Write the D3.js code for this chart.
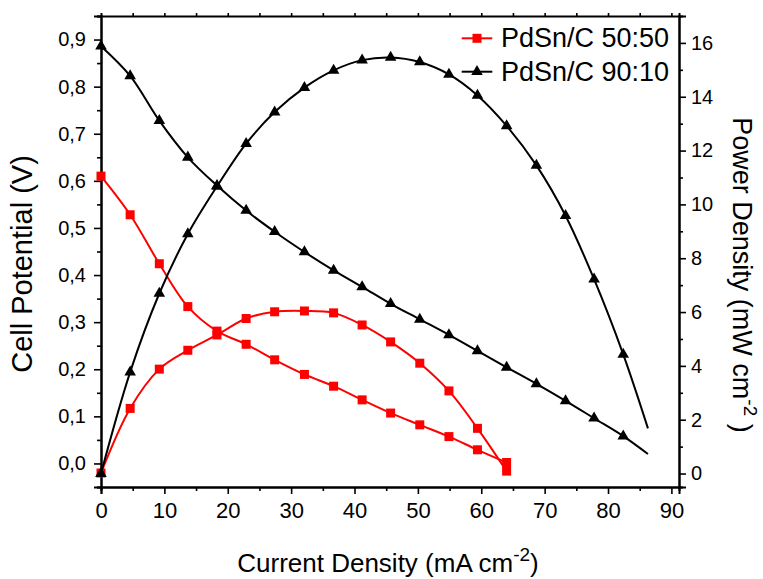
<!DOCTYPE html>
<meta charset="utf-8">
<script src="https://d3js.org/d3.v7.min.js"></script>
<style>
    body { margin: 0; background: #fff; }
    svg { font-family: "Liberation Sans", Arial, sans-serif; }
</style>
<div id="chart"></div>

<script>
    var margin = {top: 16, right: 84, bottom: 92, left: 101},
        width = 763 - margin.left - margin.right,
        height = 579 - margin.top - margin.bottom;

    // current density (mA cm-2)
    const currentRed = [0, 4.6, 9.2, 13.7, 18.3, 22.9, 27.4, 32.1, 36.7, 41.2, 45.7, 50.3, 54.9, 59.4, 64.0];
    const currentBlack = [0, 4.6, 9.2, 13.7, 18.3, 22.9, 27.4, 32.1, 36.7, 41.2, 45.7, 50.3, 54.9, 59.4, 64.0, 68.7, 73.3, 77.8, 82.4, 86.3];
    // PdSn/C 50:50
    const potential5050 = [0.610, 0.528, 0.424, 0.333, 0.281, 0.253, 0.220, 0.189, 0.164, 0.135, 0.107, 0.082, 0.057, 0.029, 0.002];
    const power5050 = [0.02, 2.42, 3.88, 4.58, 5.15, 5.76, 6.01, 6.04, 5.97, 5.52, 4.89, 4.10, 3.07, 1.68, 0.09];
    // PdSn/C 90:10
    const potential9010 = [0.886, 0.823, 0.728, 0.650, 0.590, 0.537, 0.492, 0.449, 0.410, 0.375, 0.339, 0.306, 0.273, 0.239, 0.204, 0.169, 0.133, 0.096, 0.058, 0.020];
    const power9010 = [0.0, 3.77, 6.69, 8.90, 10.67, 12.26, 13.43, 14.34, 14.98, 15.36, 15.46, 15.29, 14.83, 14.05, 12.92, 11.45, 9.58, 7.22, 4.43, 1.68];

    const xTicks = [0, 10, 20, 30, 40, 50, 60, 70, 80, 90];
    const vTicks = [0, 0.1, 0.2, 0.3, 0.4, 0.5, 0.6, 0.7, 0.8, 0.9];
    const pTicks = [0, 2, 4, 6, 8, 10, 12, 14, 16];
    const seriesNames = ["PdSn/C 50:50", "PdSn/C 90:10"];

    var svg = d3.select("#chart")
        .append("svg")
            .attr("width", width + margin.left + margin.right)
            .attr("height", height + margin.top + margin.bottom)
        .append("g")
            .attr("transform", "translate(" + margin.left + "," + margin.top + ")");

    var x = d3.scaleLinear().domain([0, 91.2]).range([0, width]);
    var yV = d3.scaleLinear().domain([-0.05, 0.95]).range([height, 0]);
    var yP = d3.scaleLinear().domain([-0.5, 17]).range([height, 0]);

    var comma = v => d3.format(".1f")(v).replace(".", ",");

    function styleAxis(g, size) {
        g.select(".domain").attr("stroke-width", 2);
        g.selectAll(".tick line").attr("stroke-width", 1.6);
        g.selectAll(".tick text").attr("font-size", size).attr("fill", "#000");
    }

    // minor ticks first
    svg.append("g").attr("transform", "translate(0," + height + ")")
        .call(d3.axisBottom(x).tickValues(d3.range(5, 91, 10)).tickSize(4).tickFormat(""))
        .call(g => styleAxis(g, 0));
    svg.append("g")
        .call(d3.axisLeft(yV).tickValues(d3.range(-0.05, 0.96, 0.1)).tickSize(4).tickFormat(""))
        .call(g => styleAxis(g, 0));
    svg.append("g").attr("transform", "translate(" + width + ",0)")
        .call(d3.axisRight(yP).tickValues(d3.range(1, 17, 2)).tickSize(4).tickFormat(""))
        .call(g => styleAxis(g, 0));
    svg.append("g")
        .call(d3.axisTop(x).tickValues(d3.range(5, 91, 5)).tickSize(3).tickFormat(""))
        .call(g => styleAxis(g, 0));

    // major ticks
    svg.append("g").attr("transform", "translate(0," + height + ")")
        .call(d3.axisBottom(x).tickValues(xTicks).tickSize(7).tickPadding(8))
        .call(g => styleAxis(g, 22));
    svg.append("g")
        .call(d3.axisLeft(yV).tickValues(vTicks).tickSize(7).tickPadding(8).tickFormat(comma))
        .call(g => styleAxis(g, 20));
    svg.append("g").attr("transform", "translate(" + width + ",0)")
        .call(d3.axisRight(yP).tickValues(pTicks).tickSize(7).tickPadding(5))
        .call(g => styleAxis(g, 20));

    // axis titles
    svg.append("text")
        .attr("x", 388 - margin.left).attr("y", 572 - margin.top)
        .attr("text-anchor", "middle").attr("font-size", 26)
        .html('Current Density (mA cm<tspan dy="-11" font-size="19">-2</tspan><tspan dy="11">)</tspan>');
    svg.append("text")
        .attr("transform", "translate(" + (32 - margin.left) + "," + (264 - margin.top) + ") rotate(-90)")
        .attr("text-anchor", "middle").attr("font-size", 29)
        .text("Cell Potential (V)");
    svg.append("text")
        .attr("transform", "translate(" + (733 - margin.left) + "," + (275 - margin.top) + ") rotate(90)")
        .attr("text-anchor", "middle").attr("font-size", 27)
        .html('Power Density (mW cm<tspan dy="-11" font-size="19">-2</tspan><tspan dy="11"> )</tspan>');

    var series = [
        {color: "#ff0000", shape: "square", xs: currentRed, ys: potential5050, scale: yV, marks: currentRed.length},
        {color: "#ff0000", shape: "square", xs: currentRed, ys: power5050, scale: yP, marks: currentRed.length},
        {color: "#000000", shape: "triangle", xs: currentBlack, ys: potential9010, scale: yV, marks: currentBlack.length - 1},
        {color: "#000000", shape: "triangle", xs: currentBlack, ys: power9010, scale: yP, marks: currentBlack.length - 1}
    ];

    var tri = d3.symbol().type(d3.symbolTriangle).size(58);

    function marker(g, shape, color) {
        if (shape === "square") {
            g.append("rect").attr("x", -4.5).attr("y", -4.5).attr("width", 9).attr("height", 9).attr("fill", color);
        } else {
            g.append("path").attr("d", tri()).attr("fill", color);
        }
    }

    series.forEach(s => {
        var pts = s.xs.map((v, i) => [v, s.ys[i]]);
        var line = d3.line()
            .x(d => x(d[0]))
            .y(d => s.scale(d[1]))
            .curve(d3.curveCatmullRom);
        svg.append("path")
            .datum(pts)
            .attr("fill", "none")
            .attr("stroke", s.color)
            .attr("stroke-width", 2)
            .attr("d", line);
        pts.slice(0, s.marks).forEach(d => {
            var g = svg.append("g").attr("transform", "translate(" + x(d[0]) + "," + s.scale(d[1]) + ")");
            marker(g, s.shape, s.color);
        });
    });

    // legend
    var legend = svg.append("g").attr("transform", "translate(" + (461.7 - margin.left) + "," + (38.3 - margin.top) + ")");
    seriesNames.forEach((name, i) => {
        var color = i === 0 ? "#ff0000" : "#000000";
        var g = legend.append("g").attr("transform", "translate(0," + (i * 33.4) + ")");
        g.append("line").attr("x1", 0).attr("x2", 30.6).attr("stroke", color).attr("stroke-width", 2);
        var m = g.append("g").attr("transform", "translate(15.3,0)");
        marker(m, i === 0 ? "square" : "triangle", color);
        g.append("text").attr("x", 39.3).attr("y", 9).attr("font-size", 27).text(name);
    });
</script>
